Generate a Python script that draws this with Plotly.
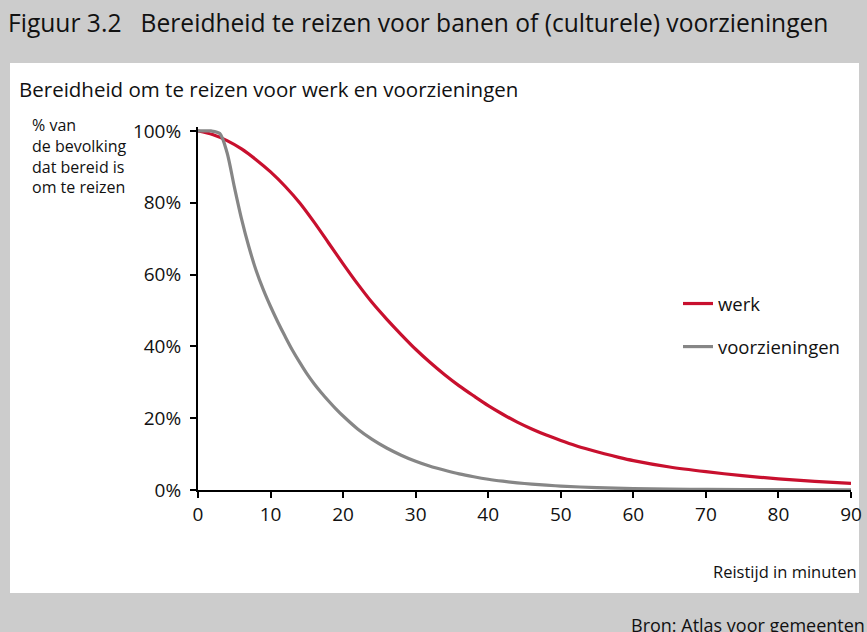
import plotly.graph_objects as go

# Travel time in minutes and share of population willing to travel (%)
werk_t = [0, 2, 4, 6, 8, 10, 12, 14, 16, 18, 20, 22, 24, 26, 28, 30, 32, 34, 36, 38, 40,
          42, 44, 46, 48, 50, 52, 54, 56, 58, 60, 65, 70, 75, 80, 85, 90]
werk_v = [100, 99.0, 97.3, 95.0, 92.0, 88.6, 84.6, 80.0, 74.6, 68.8, 63.0, 57.4, 52.2, 47.6,
          43.3, 39.2, 35.5, 32.1, 29.0, 26.2, 23.5, 21.1, 18.9, 17.0, 15.3, 13.8, 12.4, 11.2,
          10.1, 9.1, 8.2, 6.4, 5.1, 4.0, 3.1, 2.4, 1.85]

voorz_t = [0, 1, 1.8, 3, 4, 5, 6, 7, 8, 9, 10, 11, 12, 13, 14, 15, 16, 17, 18, 19, 20, 22,
           24, 26, 28, 30, 32, 34, 36, 38, 40, 42, 44, 46, 48, 50, 55, 60, 65, 70, 80, 90]
voorz_v = [100, 100, 100, 99.3, 94.0, 84.5, 75.5, 67.8, 61.2, 55.8, 51.1, 46.8, 42.8, 39.0,
           35.6, 32.4, 29.6, 27.1, 24.8, 22.6, 20.6, 17.0, 14.1, 11.7, 9.7, 8.0, 6.6, 5.5,
           4.5, 3.7, 3.0, 2.45, 2.0, 1.65, 1.35, 1.1, 0.65, 0.4, 0.25, 0.17, 0.08, 0.05]

x_ticks = [0, 10, 20, 30, 40, 50, 60, 70, 80, 90]
y_ticks = [0, 20, 40, 60, 80, 100]
y_ticklabels = ["0%", "20%", "40%", "60%", "80%", "100%"]

W, H = 867, 632
L, R, T, B = 198, 16, 127, 142
PW, PH = W - L - R, H - T - B


def xp(px):
    return (px - L) / PW


def yp(py):
    return (H - B - py) / PH


FONT = "Open Sans"
TXT = "#111111"

fig = go.Figure()
fig.add_trace(go.Scatter(x=werk_t, y=werk_v, mode="lines", name="werk",
                         line=dict(color="#c8102e", width=3.2, shape="spline", smoothing=0.8),
                         legendgroup="a", hoverinfo="skip"))
fig.add_trace(go.Scatter(x=voorz_t, y=voorz_v, mode="lines", name="voorzieningen",
                         line=dict(color="#868686", width=3.2, shape="spline", smoothing=0.8),
                         legendgroup="b", hoverinfo="skip"))

fig.update_layout(
    width=W, height=H,
    margin=dict(l=L, r=R, t=T, b=B, autoexpand=False),
    paper_bgcolor="#cccccc",
    plot_bgcolor="white",
    font=dict(family=FONT, color=TXT, size=16),
    showlegend=True,
    legend=dict(x=xp(678), y=yp(285), xanchor="left", yanchor="top",
                bgcolor="rgba(0,0,0,0)", font=dict(size=18.5, family=FONT, color=TXT),
                tracegroupgap=16, itemwidth=30),
    xaxis=dict(range=[0, 90], tickvals=x_ticks, showline=True, linecolor="black",
               linewidth=2, ticks="outside", ticklen=6, tickwidth=2, tickcolor="black",
               showgrid=False, zeroline=False, tickfont=dict(size=19, family=FONT, color=TXT)),
    yaxis=dict(range=[0, 101.1], tickvals=y_ticks, ticktext=y_ticklabels, showline=True,
               linecolor="black", linewidth=2, ticks="outside", ticklen=6, tickwidth=2,
               tickcolor="black", showgrid=False, zeroline=False, ticklabelstandoff=5,
               tickfont=dict(size=19, family=FONT, color=TXT)),
    shapes=[
        dict(type="rect", xref="paper", yref="paper", x0=xp(10), x1=xp(859),
             y0=yp(593), y1=yp(63), fillcolor="white", line=dict(width=0), layer="below"),
    ],
    annotations=[
        dict(text="Figuur 3.2   Bereidheid te reizen voor banen of (culturele) voorzieningen",
             xref="paper", yref="paper", x=xp(6), y=yp(22), xanchor="left", yanchor="middle",
             showarrow=False, font=dict(size=24.6, family=FONT, color=TXT)),
        dict(text="Bereidheid om te reizen voor werk en voorzieningen",
             xref="paper", yref="paper", x=xp(17), y=yp(89), xanchor="left", yanchor="middle",
             showarrow=False, font=dict(size=20.5, family=FONT, color=TXT)),
        dict(text="% van<br>de bevolking<br>dat bereid is<br>om te reizen",
             xref="paper", yref="paper", x=xp(30), y=yp(112), xanchor="left", yanchor="top",
             align="left", showarrow=False, font=dict(size=16, family=FONT, color=TXT)),
        dict(text="Reistijd in minuten",
             xref="paper", yref="paper", x=xp(859), y=yp(571), xanchor="right", yanchor="middle",
             showarrow=False, font=dict(size=16.5, family=FONT, color=TXT)),
        dict(text="Bron: Atlas voor gemeenten",
             xref="paper", yref="paper", x=xp(867), y=yp(611), xanchor="right", yanchor="top",
             showarrow=False, font=dict(size=18, family=FONT, color=TXT)),
    ],
)

fig.write_html(
    "out.html",
    config={"displayModeBar": False},
    post_script=(
        "document.documentElement.style.overflow='hidden';"
        "document.body.style.overflow='hidden';"
        "document.body.style.margin='0';document.body.style.padding='0';"
    ),
)
